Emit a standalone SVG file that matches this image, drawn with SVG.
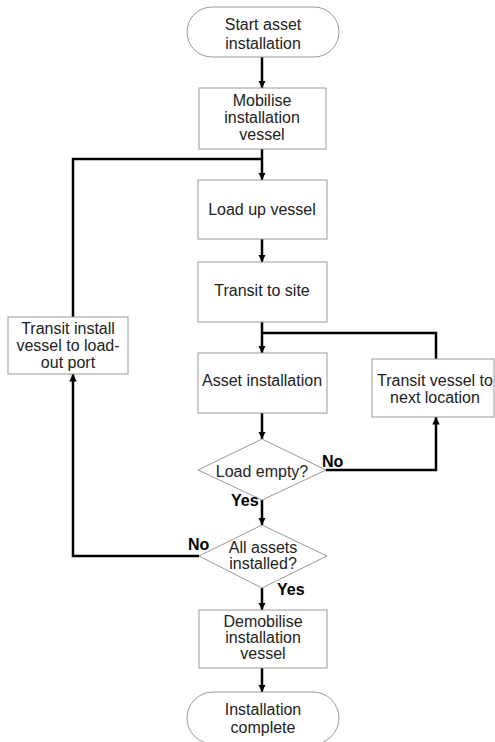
<svg xmlns="http://www.w3.org/2000/svg" width="495" height="742" viewBox="0 0 495 742">
<defs>
<marker id="ah" viewBox="0 0 10 10" refX="10" refY="5" markerWidth="3" markerHeight="3" orient="auto" markerUnits="strokeWidth">
<path d="M0,0 L10,5 L0,10 z" fill="#000"/>
</marker>
<style>
.box{fill:#fff;stroke:#999;stroke-width:1}
.t{font-family:"Liberation Sans",Arial,sans-serif;font-size:16px;fill:#222;text-anchor:middle}
.lbl{font-family:"Liberation Sans",Arial,sans-serif;font-size:16px;font-weight:bold;fill:#000}
.c{fill:none;stroke:#000;stroke-width:2.5}
.ca{fill:none;stroke:#000;stroke-width:2.5;marker-end:url(#ah)}
</style>
</defs>
<rect width="495" height="742" fill="#fff"/>
<g id="connectors">
<path class="ca" d="M262,57 V88"/>
<path class="ca" d="M262,149 V180"/>
<path class="c" d="M73,317 V159 H262"/>
<path class="ca" d="M262,239 V262"/>
<path class="ca" d="M262,322 V353"/>
<path class="c" d="M436,359 V333 H262"/>
<path class="ca" d="M262,413 V439"/>
<path class="ca" d="M326,470 H436 V417"/>
<path class="ca" d="M262,500 V525"/>
<path class="ca" d="M199,556 H73 V374"/>
<path class="ca" d="M262,588 V610"/>
<path class="ca" d="M262,668 V692"/>
</g>
<g id="start">
<rect class="box" x="187" y="7" width="152" height="50" rx="25" ry="25"/>
<text class="t" x="263" y="30">Start asset</text>
<text class="t" x="263" y="49">installation</text>
</g>
<g id="mobilise">
<rect class="box" x="199" y="88" width="127" height="61"/>
<text class="t" x="262" y="106">Mobilise</text>
<text class="t" x="262" y="123">installation</text>
<text class="t" x="262" y="140">vessel</text>
</g>
<g id="loadup">
<rect class="box" x="198" y="180" width="129" height="59"/>
<text class="t" x="262" y="215">Load up vessel</text>
</g>
<g id="transitsite">
<rect class="box" x="198" y="262" width="129" height="60"/>
<text class="t" x="262" y="296">Transit to site</text>
</g>
<g id="assetinstall">
<rect class="box" x="198" y="353" width="129" height="60"/>
<text class="t" x="262" y="386">Asset installation</text>
</g>
<g id="transitnext">
<rect class="box" x="372" y="359" width="122" height="58"/>
<text class="t" x="435" y="386">Transit vessel to</text>
<text class="t" x="435" y="403">next location</text>
</g>
<g id="transitport">
<rect class="box" x="8" y="317" width="120" height="57"/>
<text class="t" x="68" y="334">Transit install</text>
<text class="t" x="68" y="351">vessel to load-</text>
<text class="t" x="68" y="368">out port</text>
</g>
<g id="loadempty">
<polygon class="box" points="262,439 326,470 262,500 198,470"/>
<text class="t" x="262" y="477">Load empty?</text>
<text class="lbl" x="322" y="467">No</text>
<text class="lbl" x="231" y="506">Yes</text>
</g>
<g id="allassets">
<polygon class="box" points="262,525 327,556 262,588 199,556"/>
<text class="t" x="263" y="553">All assets</text>
<text class="t" x="263" y="569">installed?</text>
<text class="lbl" x="188" y="550">No</text>
<text class="lbl" x="277" y="595">Yes</text>
</g>
<g id="demobilise">
<rect class="box" x="199" y="610" width="128" height="58"/>
<text class="t" x="263" y="627">Demobilise</text>
<text class="t" x="263" y="643">installation</text>
<text class="t" x="263" y="659">vessel</text>
</g>
<g id="end">
<rect class="box" x="187" y="692" width="152" height="52" rx="26" ry="26"/>
<text class="t" x="263" y="715">Installation</text>
<text class="t" x="263" y="733">complete</text>
</g>
</svg>
